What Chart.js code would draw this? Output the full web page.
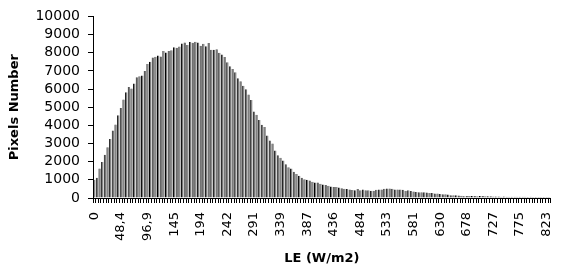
<!DOCTYPE html>
<html>
<head>
<meta charset="utf-8">
<script src="https://cdn.jsdelivr.net/npm/chart.js@4/dist/chart.umd.min.js"></script>
<style>
  html, body { margin: 0; padding: 0; background: #fff; }
</style>
</head>
<body>
<canvas id="chart" width="574" height="274"></canvas>
<script>
// x tick labels, one every 10 bins
const tickLabels = ["0", "48,4", "96,9", "145", "194", "242", "291", "339", "387",
  "436", "484", "533", "581", "630", "678", "727", "775", "823"];

// pixel counts per LE bin
const pixelCounts = [
  1000, 1120, 1620, 1980, 2380, 2800, 3250, 3720, 4050, 4550,
  4950, 5420, 5830, 6110, 6030, 6300, 6650, 6710, 6740, 7000,
  7380, 7500, 7730, 7780, 7850, 7790, 8100, 8010, 8090, 8140,
  8300, 8280, 8340, 8510, 8560, 8430, 8590, 8550, 8610, 8560,
  8380, 8500, 8350, 8530, 8160, 8160, 8190, 8000, 7900, 7760,
  7470, 7260, 7110, 6930, 6600, 6430, 6180, 5990, 5700, 5400,
  4770, 4580, 4300, 4040, 3910, 3440, 3170, 3000, 2610, 2350,
  2220, 2060, 1860, 1700, 1620, 1450, 1320, 1220, 1120, 1030,
  1010, 960, 890, 850, 850, 790, 750, 720, 680, 640,
  610, 610, 580, 540, 510, 490, 470, 440, 430, 490,
  430, 470, 430, 420, 400, 400, 450, 470, 470, 510,
  520, 520, 510, 470, 470, 470, 460, 400, 430, 390,
  360, 330, 310, 310, 310, 300, 280, 270, 250, 250,
  220, 200, 200, 190, 150, 145, 145, 140, 120, 100,
  110, 110, 105, 110, 100, 110, 105, 100, 95, 90,
  85, 80, 80, 75, 80, 75, 70, 75, 70, 70,
  65, 70, 65, 60, 65, 60, 60, 55, 60, 55,
  60, 55
];

const categories = pixelCounts.map((v, i) => (i % 10 === 0 ? tickLabels[i / 10] : ""));

const font = "'DejaVu Sans', sans-serif";

new Chart(document.getElementById("chart"), {
  type: "bar",
  data: {
    labels: categories,
    datasets: [{
      data: pixelCounts,
      backgroundColor: "#7a7a7a",
      borderColor: "#000",
      borderWidth: { left: 1, right: 0, top: 0, bottom: 0 },
      borderSkipped: false,
      barPercentage: 0.9,
      categoryPercentage: 1,
    }],
  },
  options: {
    responsive: false,
    animation: false,
    layout: { padding: { top: 13, right: 3, left: 0, bottom: 0 } },
    plugins: {
      legend: { display: false },
      tooltip: { enabled: false },
    },
    scales: {
      x: {
        afterFit: (scale) => { scale.height = 76; },
        grid: {
          display: true,
          drawOnChartArea: false,
          drawTicks: true,
          tickLength: 5,
          color: "#000",
          offset: true,
        },
        border: { display: true, color: "#000", width: 1 },
        ticks: {
          autoSkip: false,
          minRotation: 90,
          maxRotation: 90,
          padding: 9,
          color: "#000",
          font: { family: font, size: 13 },
        },
        title: {
          display: true,
          text: "LE (W/m2)",
          color: "#000",
          font: { family: font, size: 13, weight: "bold" },
          padding: { top: 0, bottom: 8 },
        },
      },
      y: {
        min: 0,
        max: 10000,
        afterFit: (scale) => { scale.width = 93; },
        grid: {
          display: true,
          drawOnChartArea: false,
          drawTicks: true,
          tickLength: 5,
          color: "#000",
        },
        border: { display: true, color: "#000", width: 1 },
        ticks: {
          stepSize: 1000,
          autoSkip: false,
          padding: 8,
          color: "#000",
          font: { family: font, size: 14 },
          callback: (v) => String(v),
        },
        title: {
          display: true,
          text: "Pixels Number",
          color: "#000",
          font: { family: font, size: 13, weight: "bold" },
          padding: { top: 7, bottom: 0 },
        },
      },
    },
  },
});
</script>
</body>
</html>
